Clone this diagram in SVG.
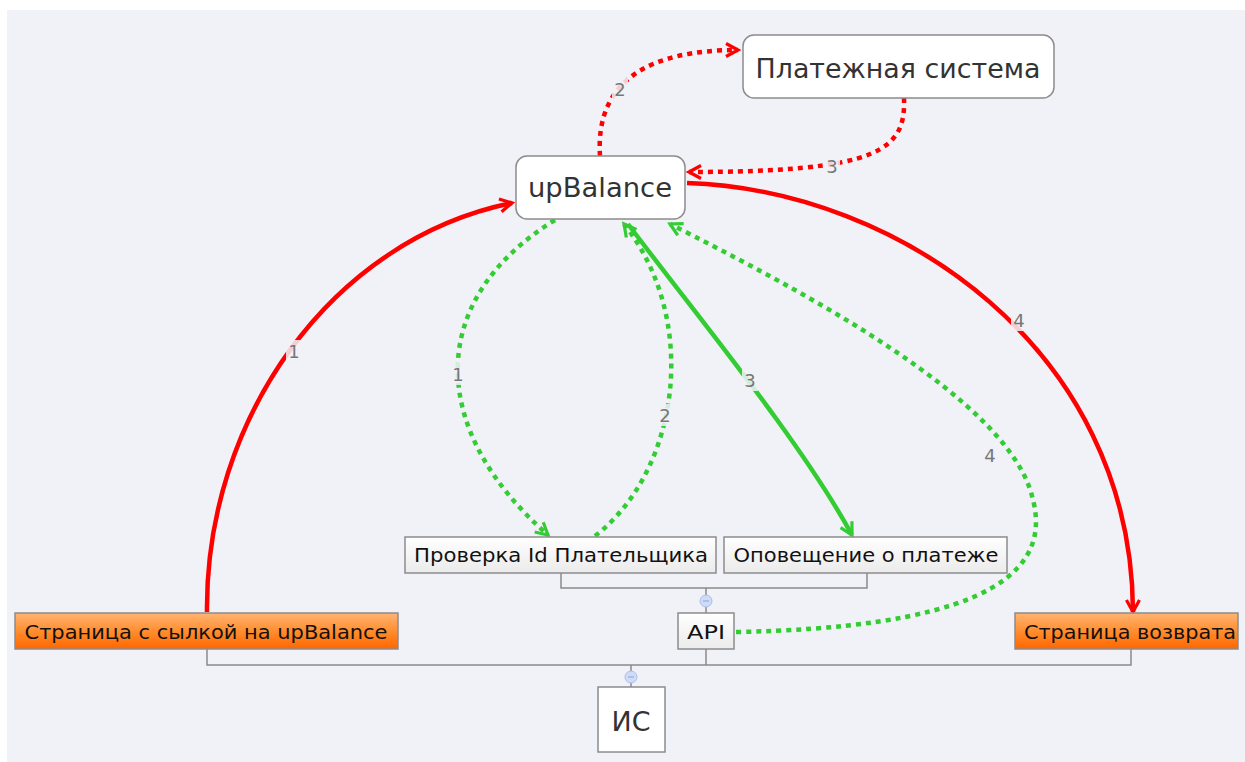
<svg xmlns="http://www.w3.org/2000/svg" width="1245" height="762" viewBox="0 0 1245 762">
<defs>
<style>
.bg{fill:#f1f2f8}
.node{stroke:#8c8c8c;stroke-width:1.5}
.t{font-family:"DejaVu Sans","Liberation Sans",sans-serif;fill:#222}
.big{font-size:26px;fill:#333}
.small{font-size:19px;fill:#111}
.tree{fill:none;stroke:#8a8a8a;stroke-width:1.5}
.col{fill:#cfdcf7;stroke:#a9bfe8;stroke-width:1}
.red{fill:none;stroke:#ff0000;stroke-width:4.5}
.green{fill:none;stroke:#33cc33;stroke-width:4.5}
.dot{stroke-dasharray:5 5}
.lbl{font-family:"DejaVu Sans","Liberation Sans",sans-serif;font-size:18px;fill:#777;text-anchor:middle}
.lb{fill:#f1f2f8;opacity:0.85}
</style>
<linearGradient id="gw" x1="0" y1="0" x2="0" y2="1"><stop offset="0" stop-color="#ffffff"/><stop offset="1" stop-color="#ebebeb"/></linearGradient>
<linearGradient id="go" x1="0" y1="0" x2="0" y2="1"><stop offset="0" stop-color="#ffb573"/><stop offset="0.55" stop-color="#ff8a2a"/><stop offset="1" stop-color="#ff6600"/></linearGradient>
<marker id="ar" viewBox="0 0 16 16" refX="13" refY="8" markerWidth="16" markerHeight="16" markerUnits="userSpaceOnUse" orient="auto"><path d="M1,1.5 L13,8 L1,14.5" fill="none" stroke="#ff0000" stroke-width="3.2"/></marker>
<marker id="ag" viewBox="0 0 16 16" refX="13" refY="8" markerWidth="16" markerHeight="16" markerUnits="userSpaceOnUse" orient="auto"><path d="M1,1.5 L13,8 L1,14.5" fill="none" stroke="#33cc33" stroke-width="3.2"/></marker>
</defs>
<rect x="0" y="0" width="1245" height="762" fill="#ffffff"/>
<rect class="bg" x="7" y="10" width="1238" height="752"/>

<g id="tree">
<path class="tree" d="M561,573 V588 H867 V573"/>
<path class="tree" d="M706,588 V613"/>
<path class="tree" d="M706,649 V665"/>
<path class="tree" d="M207,649 V665 H1131 V649"/>
<path class="tree" d="M631,665 V687"/>
<circle class="col" cx="706" cy="601" r="6"/>
<line x1="703" y1="601" x2="709" y2="601" stroke="#8aa3d8" stroke-width="1"/>
<circle class="col" cx="631" cy="677" r="6"/>
<line x1="628" y1="677" x2="634" y2="677" stroke="#8aa3d8" stroke-width="1"/>
</g>

<g id="connectors">
<path class="red" d="M207,612 C 205,420 330,240 512,203" marker-end="url(#ar)"/>
<path class="red dot" d="M600,156 C 595,80 650,50 738,50" marker-end="url(#ar)"/>
<path class="red dot" d="M904,98 C 906,150 880,172 689,172" marker-end="url(#ar)"/>
<path class="red" d="M687,183 C 900,190 1132,350 1133,612" marker-end="url(#ar)"/>
<path class="green dot" d="M555,220 C 425,300 428,430 548,535" marker-end="url(#ag)"/>
<path class="green dot" d="M595,536 C 680,470 700,320 624,224" marker-end="url(#ag)"/>
<path class="green" d="M628,224 C 700,320 800,440 852,535" marker-end="url(#ag)"/>
<path class="green dot" d="M736,632 C 955,628 1055,585 1033,500 C 1012,400 800,290 670,224" marker-end="url(#ag)"/>
<rect class="lb" x="286" y="340" width="16" height="22"/><text class="lbl" x="294" y="358">1</text>
<rect class="lb" x="612" y="78" width="16" height="22"/><text class="lbl" x="620" y="96">2</text>
<rect class="lb" x="824" y="155" width="16" height="22"/><text class="lbl" x="832" y="173">3</text>
<rect class="lb" x="1011" y="309" width="16" height="22"/><text class="lbl" x="1019" y="327">4</text>
<rect class="lb" x="450" y="363" width="16" height="22"/><text class="lbl" x="458" y="381">1</text>
<rect class="lb" x="657" y="404" width="16" height="22"/><text class="lbl" x="665" y="422">2</text>
<rect class="lb" x="742" y="369" width="16" height="22"/><text class="lbl" x="750" y="387">3</text>
<rect class="lb" x="982" y="444" width="16" height="22"/><text class="lbl" x="990" y="462">4</text>
</g>

<g id="n-plat">
<rect class="node" x="743" y="35" width="311" height="63" rx="11" fill="#ffffff"/>
<text class="t big" x="898" y="78" text-anchor="middle" textLength="285" lengthAdjust="spacingAndGlyphs">Платежная система</text>
</g>
<g id="n-upbalance">
<rect class="node" x="516" y="156" width="169" height="63" rx="11" fill="#ffffff"/>
<text class="t big" x="600" y="197" text-anchor="middle" textLength="144" lengthAdjust="spacingAndGlyphs">upBalance</text>
</g>
<g id="n-check">
<rect class="node" x="405" y="537" width="311" height="36" fill="url(#gw)"/>
<text class="t small" x="561" y="562" text-anchor="middle" textLength="294" lengthAdjust="spacingAndGlyphs">Проверка Id Плательщика</text>
</g>
<g id="n-notify">
<rect class="node" x="724" y="537" width="283" height="36" fill="url(#gw)"/>
<text class="t small" x="866" y="562" text-anchor="middle" textLength="265" lengthAdjust="spacingAndGlyphs">Оповещение о платеже</text>
</g>
<g id="n-api">
<rect class="node" x="678" y="613" width="56" height="36" fill="url(#gw)"/>
<text class="t small" x="706" y="639" text-anchor="middle" textLength="38" lengthAdjust="spacingAndGlyphs">API</text>
</g>
<g id="n-page">
<rect class="node" x="15" y="613" width="383" height="36" fill="url(#go)"/>
<text class="t small" x="206" y="639" text-anchor="middle" textLength="363" lengthAdjust="spacingAndGlyphs">Страница с сылкой на upBalance</text>
</g>
<g id="n-return">
<rect class="node" x="1015" y="613" width="223" height="36" fill="url(#go)"/>
<text class="t small" x="1024" y="639" textLength="212" lengthAdjust="spacingAndGlyphs">Страница возврата</text>
</g>
<g id="n-is">
<rect class="node" x="598" y="687" width="67" height="65" fill="#ffffff"/>
<text class="t big" x="631" y="731" text-anchor="middle" textLength="39" lengthAdjust="spacingAndGlyphs">ИС</text>
</g>
</svg>
